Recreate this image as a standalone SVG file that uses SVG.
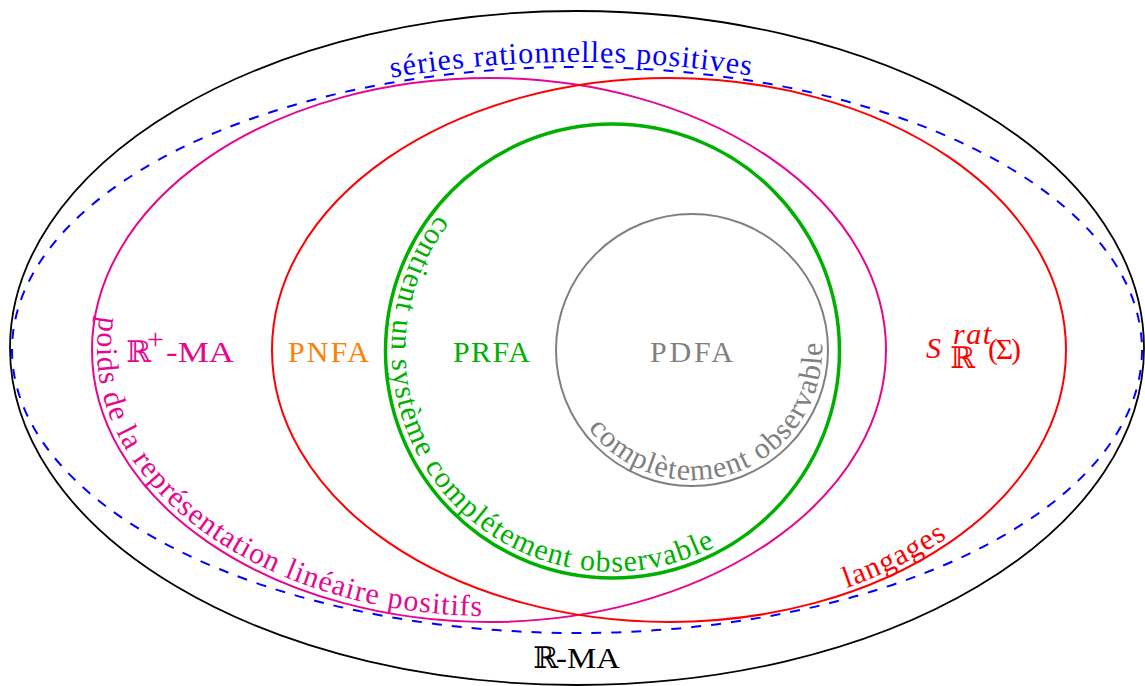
<svg xmlns="http://www.w3.org/2000/svg" width="1145" height="686" viewBox="0 0 1145 686">
<style>
text{font-family:"Liberation Serif","Times New Roman",serif;font-size:30px}
.curve{letter-spacing:1.1px}
.line{fill:none}
.bb{font-family:"DejaVu Serif","Liberation Serif",serif}
</style>
<defs>
<path id="tpBlue" d="M 7 350 A 570 288 0 0 1 1147 350"/>
<path id="tpMag" d="M 100 316 A 392 267 0 1 0 881 350"/>
<path id="tpRed" d="M 846.5 587.9 A 391 267 0 0 0 1060 350"/>
<path id="tpGreen" d="M 438.3 214.9 A 221 221 0 1 0 820.2 426.6"/>
<path id="tpGray" d="M 588.2 428.2 A 130 130 0 1 0 791.6 266.4"/>
</defs>
<rect width="1145" height="686" fill="#ffffff"/>
<g id="connectors"></g>
<g id="rma">
<ellipse class="line" cx="577" cy="348" rx="567" ry="337" stroke="#000000" stroke-width="1.8"/>
<text x="533" y="668" class="bb" font-size="26" fill="#000000">ℝ</text>
<text x="556" y="668" fill="#000000" textLength="64" lengthAdjust="spacingAndGlyphs">-MA</text>
</g>
<g id="series">
<ellipse class="line" cx="577" cy="350" rx="565" ry="283" stroke="#0000ff" stroke-width="2" stroke-dasharray="10 10"/>
<text class="curve" fill="#0000ff" text-anchor="middle" letter-spacing="1.4"><textPath href="#tpBlue" startOffset="49.6%">séries rationnelles positives</textPath></text>
</g>
<g id="rplusma">
<ellipse class="line" cx="489" cy="350" rx="397" ry="272" stroke="#e6068f" stroke-width="2"/>
<text class="curve" fill="#e6068f" letter-spacing="1.3"><textPath href="#tpMag">poids de la représentation linéaire positifs</textPath></text>
<text x="126" y="362" class="bb" font-size="26" fill="#e6068f">ℝ</text>
<text x="147" y="349" font-size="22" fill="#e6068f">+</text>
<text x="166" y="362" fill="#e6068f" textLength="68" lengthAdjust="spacingAndGlyphs">-MA</text>
</g>
<g id="langages">
<ellipse class="line" cx="669" cy="350" rx="397" ry="272" stroke="#ff0000" stroke-width="2"/>
<text class="curve" fill="#ff0000"><textPath href="#tpRed">langages</textPath></text>
<text x="926" y="358" font-style="italic" font-size="33" fill="#ff0000">S</text>
<text x="953" y="344" font-style="italic" font-size="23" letter-spacing="1.5" fill="#ff0000">rat</text>
<text x="950" y="368" class="bb" font-size="15" fill="#ff0000">ℝ</text>
<text x="988" y="359" textLength="33" fill="#ff0000">(Σ)</text>
</g>
<g id="pnfa">
<text x="288" y="362" fill="#ff8000" textLength="81">PNFA</text>
</g>
<g id="prfa">
<circle class="line" cx="612.5" cy="351" r="227" stroke="#00b000" stroke-width="3.5"/>
<text class="curve" fill="#00b000"><textPath href="#tpGreen">contient un système complétement observable</textPath></text>
<text x="453" y="362" fill="#00b000" textLength="77">PRFA</text>
</g>
<g id="pdfa">
<circle class="line" cx="692" cy="350" r="136" stroke="#808080" stroke-width="2"/>
<text class="curve" fill="#808080"><textPath href="#tpGray">complètement observable</textPath></text>
<text x="650" y="362" fill="#808080" textLength="83">PDFA</text>
</g>
</svg>
